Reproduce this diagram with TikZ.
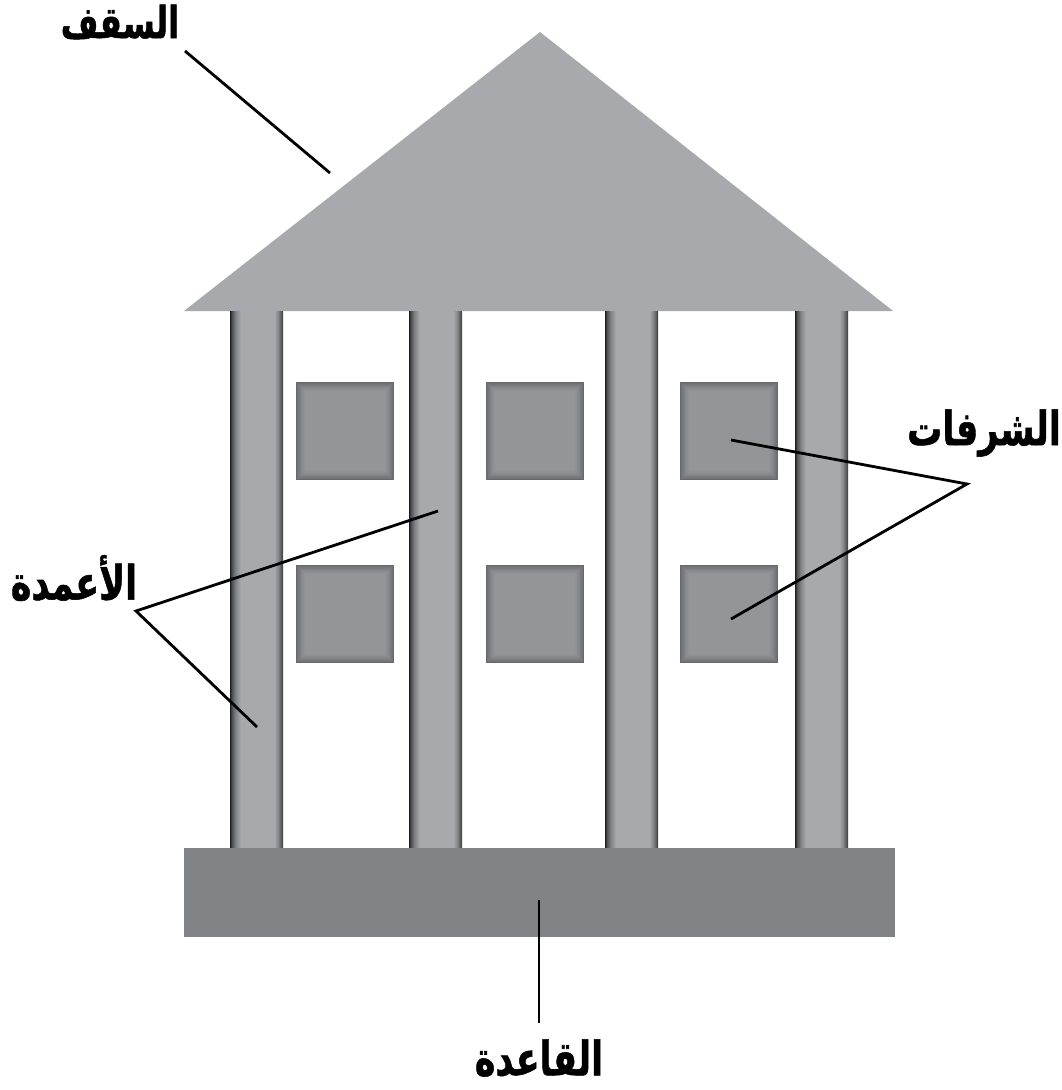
\documentclass[tikz,border=0pt]{standalone}
\usepackage{fontspec}
\newfontfamily\arabicfont[Script=Arabic,BoldFeatures={FakeBold=1.2}]{DejaVu Sans}
\TeXXeTstate=1
\definecolor{roofc}{HTML}{A7A9AC}
\definecolor{basec}{HTML}{808285}
\definecolor{winc}{HTML}{939598}
\definecolor{winedge}{HTML}{68696C}
\definecolor{colA}{HTML}{1E1E1F}
\definecolor{colB}{HTML}{4A4B4D}
\definecolor{colC}{HTML}{A7A9AC}
\definecolor{colD}{HTML}{7E7F82}
\definecolor{colE}{HTML}{3A3A3C}
\pgfdeclarehorizontalshading{colshade}{100bp}{color(0bp)=(colA); color(25bp)=(colA); color(26.5bp)=(colB); color(30bp)=(colD); color(35bp)=(colC); color(67bp)=(colC); color(71bp)=(colD); color(75bp)=(colE); color(100bp)=(colE)}
\newcommand{\arlabel}[1]{\scalebox{1}[1.35]{\beginR #1\endR}}
\begin{document}
\begin{tikzpicture}[x=1pt,y=-1pt,
  pillar/.style={shading=colshade},
  leader/.style={line width=2.8pt,black},
  lbl/.style={font=\arabicfont\bfseries\fontsize{35}{42}\selectfont,inner sep=0pt}]
\useasboundingbox[fill=white] (0,0) rectangle (1061,1090);
% roof
\fill[roofc] (184,311) -- (540,32) -- (893,311) -- cycle;
% columns
\foreach \x in {230,409,605,795}{
  \shade[pillar] (\x,311) rectangle ++(53,537);
}
% windows
\foreach \x/\y in {296/382,486/382,680/382,296/565,486/565,680/565}{
  \fill[winedge] (\x,\y) rectangle ++(98,98);
  \foreach \i in {1,...,10}{
    \pgfmathsetmacro{\p}{100*(\i/10)^0.7}
    \fill[winc!\p!winedge] ({\x+\i*0.9},{\y+\i*0.9}) rectangle ({\x+98-\i*0.9},{\y+98-\i*0.9});
  }
}
% base
\fill[basec] (184,848) rectangle (895,937);
% labels
\node[lbl,font=\arabicfont\bfseries\fontsize{32.5}{40}\selectfont] (roofl) at (120,22) {\arlabel{السقف}};
\node[lbl] (balc) at (984,433) {\arlabel{الشرفات}};
\node[lbl] (colsl) at (74,578) {\arlabel{الأعمدة}};
\node[lbl] (basel) at (539,1058) {\arlabel{القاعدة}};
% leader coordinates
\coordinate (r1) at (185,51);
\coordinate (r2) at (330,173);
\coordinate (bv) at (967,484);
\coordinate (b1) at (731,440);
\coordinate (b2) at (731,619);
\coordinate (cv) at (136,611);
\coordinate (c1) at (438,511);
\coordinate (c2) at (257,727);
\coordinate (q1) at (539,900);
\coordinate (q2) at (539,1023);
\draw[leader] (r1) -- (r2);
\draw[leader] (b1) -- (bv) -- (b2);
\draw[leader] (c1) -- (cv) -- (c2);
\draw[leader] (q1) -- (q2);
\end{tikzpicture}
\end{document}
